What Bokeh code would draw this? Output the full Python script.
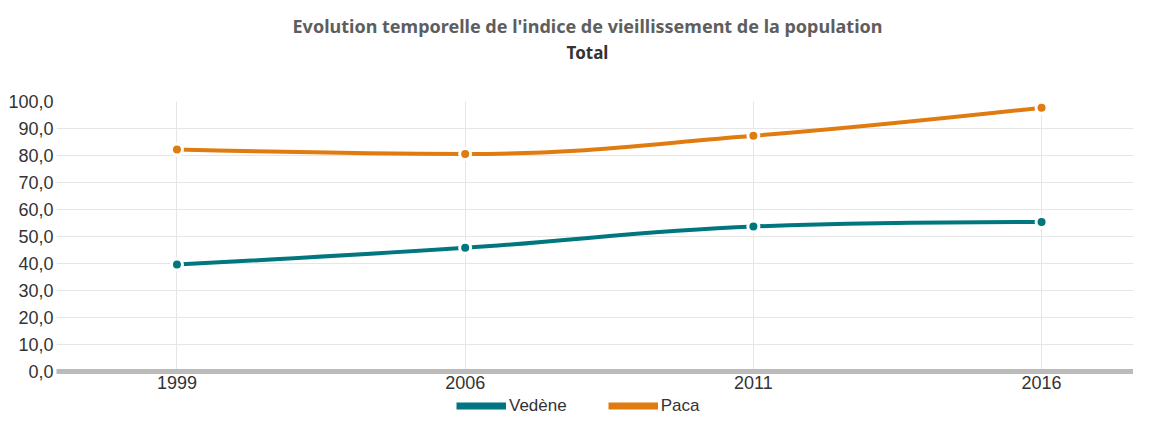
import numpy as np
from bokeh.plotting import figure
from bokeh.layouts import column
from bokeh.models import Range1d, FixedTicker, Label, Legend, LegendItem
from bokeh.embed import file_html
from bokeh.resources import INLINE

# ---- data ----
years = ["1999", "2006", "2011", "2016"]
vedene = [39.6, 45.8, 53.7, 55.4]
paca = [82.2, 80.6, 87.3, 97.7]
series_names = ["Vedène", "Paca"]
series_colors = ["#00767e", "#e07b0f"]
y_ticks = [0, 10, 20, 30, 40, 50, 60, 70, 80, 90, 100]
y_tick_labels = ["0,0", "10,0", "20,0", "30,0", "40,0", "50,0", "60,0",
                 "70,0", "80,0", "90,0", "100,0"]
title_text = "Evolution temporelle de l'indice de vieillissement de la population"
subtitle_text = "Total"


def spline(xs, ys, smoothing=1.5):
    """Highcharts-style spline control points."""
    denom = smoothing + 1
    n = len(xs)
    left = [(xs[i], ys[i]) for i in range(n)]
    right = [(xs[i], ys[i]) for i in range(n)]
    for i in range(1, n - 1):
        px, py = xs[i], ys[i]
        lx, ly = xs[i - 1], ys[i - 1]
        nx, ny = xs[i + 1], ys[i + 1]
        lcx = (smoothing * px + lx) / denom
        lcy = (smoothing * py + ly) / denom
        rcx = (smoothing * px + nx) / denom
        rcy = (smoothing * py + ny) / denom
        corr = ((rcy - lcy) * (rcx - px)) / (rcx - lcx) + py - rcy
        lcy += corr
        rcy += corr
        if lcy > ly and lcy > py:
            lcy = max(ly, py); rcy = 2 * py - lcy
        elif lcy < ly and lcy < py:
            lcy = min(ly, py); rcy = 2 * py - lcy
        if rcy > ny and rcy > py:
            rcy = max(ny, py); lcy = 2 * py - rcy
        elif rcy < ny and rcy < py:
            rcy = min(ny, py); lcy = 2 * py - rcy
        left[i] = (lcx, lcy)
        right[i] = (rcx, rcy)
    seg = dict(x0=[], y0=[], x1=[], y1=[], cx0=[], cy0=[], cx1=[], cy1=[])
    for i in range(n - 1):
        seg["x0"].append(xs[i]); seg["y0"].append(ys[i])
        seg["x1"].append(xs[i + 1]); seg["y1"].append(ys[i + 1])
        seg["cx0"].append(right[i][0]); seg["cy0"].append(right[i][1])
        seg["cx1"].append(left[i + 1][0]); seg["cy1"].append(left[i + 1][1])
    return seg


W = 1133
FRAME_L = 56
HEAD_H, MAIN_H, LEG_H = 80, 315, 21


def blank_fig(h):
    # frames in a column are aligned with the main chart's frame
    f = figure(width=W, height=h, output_backend="svg", toolbar_location=None,
               x_axis_type=None, y_axis_type=None,
               x_range=Range1d(FRAME_L, W), y_range=Range1d(0, h),
               min_border=0, min_border_left=FRAME_L, min_border_right=0,
               min_border_top=0, min_border_bottom=0)
    f.outline_line_color = None
    f.background_fill_color = "white"
    f.border_fill_color = "white"
    return f


# ---- header (title + subtitle) ----
head = blank_fig(HEAD_H)
head.add_layout(Label(x=587, y=HEAD_H - 25, text=title_text, text_align="center",
                      text_baseline="middle", text_font="Noto Sans",
                      text_font_size="18px", text_font_style="bold",
                      text_color="#5e5e5e"))
head.add_layout(Label(x=587, y=HEAD_H - 52, text=subtitle_text, text_align="center",
                      text_baseline="middle", text_font="Noto Sans",
                      text_font_size="17px", text_font_style="bold",
                      text_color="#333333"))

# ---- main chart ----
p = figure(width=W, height=MAIN_H, output_backend="svg", toolbar_location=None,
           x_range=Range1d(-0.418, 3.319), y_range=Range1d(0, 100),
           min_border_left=FRAME_L, min_border_right=0, min_border_top=21,
           min_border_bottom=24)
p.outline_line_color = None
p.background_fill_color = "white"
p.border_fill_color = "white"

xs = list(range(len(years)))

p.xgrid.ticker = FixedTicker(ticks=xs)
p.ygrid.ticker = FixedTicker(ticks=y_ticks)
p.xgrid.grid_line_color = "#e6e6e6"
p.ygrid.grid_line_color = "#e6e6e6"

p.xaxis.ticker = FixedTicker(ticks=xs)
p.xaxis.major_label_overrides = {i: y for i, y in enumerate(years)}
p.xaxis.axis_line_color = "#bbbbbb"
p.xaxis.axis_line_width = 5
p.xaxis.major_tick_line_color = None
p.xaxis.minor_tick_line_color = None
p.xaxis.major_tick_out = 0
p.xaxis.major_tick_in = 0
p.xaxis.major_label_standoff = 4
p.xaxis.major_label_text_font = "Liberation Sans"
p.xaxis.major_label_text_font_size = "18px"
p.xaxis.major_label_text_color = "#333333"

p.yaxis.ticker = FixedTicker(ticks=y_ticks)
p.yaxis.major_label_overrides = {t: l for t, l in zip(y_ticks, y_tick_labels)}
p.yaxis.axis_line_color = None
p.yaxis.major_tick_line_color = None
p.yaxis.minor_tick_line_color = None
p.yaxis.major_tick_out = 0
p.yaxis.major_tick_in = 0
p.yaxis.major_label_standoff = 3
p.yaxis.major_label_text_font = "Liberation Sans"
p.yaxis.major_label_text_font_size = "18px"
p.yaxis.major_label_text_color = "#333333"

# ---- legend strip ----
leg = blank_fig(LEG_H)
items = []
for name, vals, col in zip(series_names, [vedene, paca], series_colors):
    seg = spline(xs, vals)
    p.bezier(x0=seg["x0"], y0=seg["y0"], x1=seg["x1"], y1=seg["y1"],
             cx0=seg["cx0"], cy0=seg["cy0"], cx1=seg["cx1"], cy1=seg["cy1"],
             line_color=col, line_width=4)
    p.scatter(xs, vals, size=14, marker="circle", fill_color="white",
              line_color=None)
    p.scatter(xs, vals, size=8, marker="circle", fill_color=col,
              line_color=None)
    dummy = leg.line(x=[float("nan")], y=[float("nan")], line_color=col,
                     line_width=7)
    items.append(LegendItem(label=name, renderers=[dummy]))

legend = Legend(items=items, orientation="horizontal",
                location=(456 - FRAME_L, 0),
                glyph_width=50, glyph_height=21, label_height=21,
                label_standoff=3, spacing=41,
                padding=0, margin=0, border_line_color=None,
                background_fill_alpha=0,
                label_text_font="Liberation Sans", label_text_font_size="17px",
                label_text_color="#333333")
leg.add_layout(legend, "center")

layout = column(head, p, leg, spacing=0)
open("out.html", "w").write(file_html(layout, INLINE))
